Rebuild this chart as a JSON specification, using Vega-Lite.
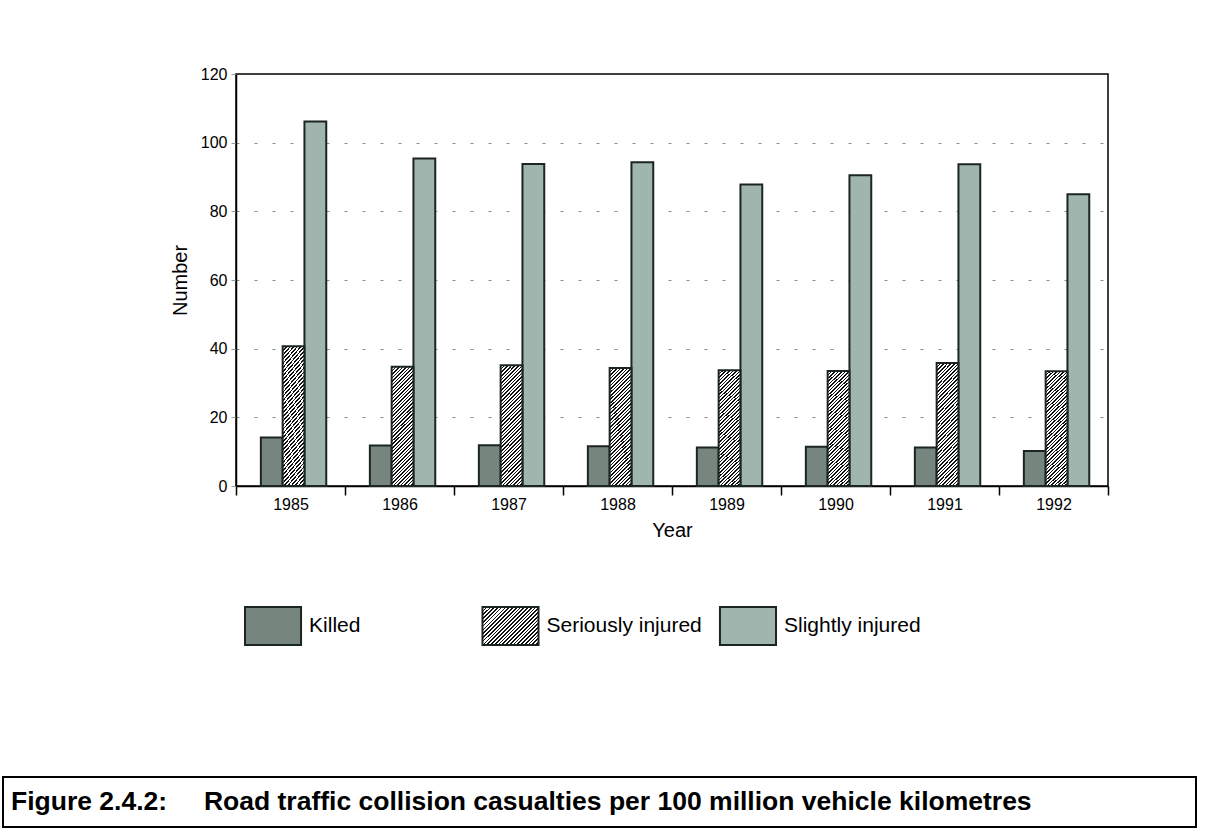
{
  "$schema": "https://vega.github.io/schema/vega-lite/v6.json",
  "padding": {"left": 2, "top": 65, "right": 5, "bottom": 5},
  "background": "#ffffff",
  "spacing": 130,
  "vconcat": [
    {
      "spacing": 65,
      "vconcat": [
        {
          "spacing": 0,
          "hconcat": [
            {"width": 166, "height": 10, "data": {"values": []}, "mark": "point"},
            {
              "width": 872,
              "height": 412,
              "view": {"stroke": "#000000", "strokeWidth": 1.5},
              "data": {"values": [
                {"year": "1985", "cat": "Killed", "value": 14.1},
                {"year": "1985", "cat": "Seriously injured", "value": 40.7},
                {"year": "1985", "cat": "Slightly injured", "value": 106.2},
                {"year": "1986", "cat": "Killed", "value": 11.8},
                {"year": "1986", "cat": "Seriously injured", "value": 34.7},
                {"year": "1986", "cat": "Slightly injured", "value": 95.4},
                {"year": "1987", "cat": "Killed", "value": 11.9},
                {"year": "1987", "cat": "Seriously injured", "value": 35.2},
                {"year": "1987", "cat": "Slightly injured", "value": 93.8},
                {"year": "1988", "cat": "Killed", "value": 11.6},
                {"year": "1988", "cat": "Seriously injured", "value": 34.4},
                {"year": "1988", "cat": "Slightly injured", "value": 94.3},
                {"year": "1989", "cat": "Killed", "value": 11.2},
                {"year": "1989", "cat": "Seriously injured", "value": 33.7},
                {"year": "1989", "cat": "Slightly injured", "value": 87.8},
                {"year": "1990", "cat": "Killed", "value": 11.4},
                {"year": "1990", "cat": "Seriously injured", "value": 33.5},
                {"year": "1990", "cat": "Slightly injured", "value": 90.5},
                {"year": "1991", "cat": "Killed", "value": 11.2},
                {"year": "1991", "cat": "Seriously injured", "value": 35.8},
                {"year": "1991", "cat": "Slightly injured", "value": 93.7},
                {"year": "1992", "cat": "Killed", "value": 10.2},
                {"year": "1992", "cat": "Seriously injured", "value": 33.4},
                {"year": "1992", "cat": "Slightly injured", "value": 85.0}
              ]},
              "encoding": {
                "x": {
                  "field": "year", "type": "ordinal",
                  "scale": {"paddingInner": 0, "paddingOuter": 0},
                  "axis": {
                    "title": "Year", "labelAngle": 0, "tickBand": "extent", "tickSize": 9,
                    "tickWidth": 1.5, "tickColor": "#000000", "domainColor": "#000000", "domainWidth": 1.5,
                    "labelFontSize": 16, "labelPadding": 1, "titleFontSize": 20, "titlePadding": 8, "grid": false
                  }
                },
                "xOffset": {
                  "field": "cat", "type": "nominal",
                  "scale": {"domain": ["Killed", "Seriously injured", "Slightly injured"], "paddingInner": 0, "paddingOuter": 1, "align": 0.57}
                },
                "y": {
                  "field": "value", "type": "quantitative",
                  "scale": {"domain": [0, 120], "nice": false},
                  "axis": {
                    "title": "Number", "values": [0, 20, 40, 60, 80, 100, 120],
                    "grid": true, "gridDash": [3, 15], "gridColor": "#8f8f8f", "gridWidth": 1,
                    "gridOpacity": {"condition": {"test": "datum.value === 0 || datum.value === 120", "value": 0}, "value": 1},
                    "tickSize": 5, "tickColor": "#999999", "domainColor": "#000000", "domainWidth": 1.5,
                    "labelFontSize": 16, "labelPadding": 4, "titleFontSize": 20, "titlePadding": 10
                  }
                }
              },
              "layer": [
                {
                  "transform": [{"filter": "datum.cat === 'Killed'"}],
                  "mark": {"type": "bar", "fill": "#77857f", "stroke": "#1b2521", "strokeWidth": 2}
                },
                {
                  "transform": [{"filter": "datum.cat === 'Slightly injured'"}],
                  "mark": {"type": "bar", "fill": "#a0b5ad", "stroke": "#1b2521", "strokeWidth": 2}
                },
                {
                  "transform": [{"filter": "datum.cat === 'Seriously injured'"}],
                  "mark": {"type": "bar", "stroke": "#1b2521", "strokeWidth": 2,
                    "fill": {"gradient": "linear", "x1": 0, "y1": 0, "x2": 0.208, "y2": 1.144, "stops": [
                      {"offset": 0, "color": "#111111"}, {"offset": 0.011, "color": "#111111"}, {"offset": 0.011, "color": "#ffffff"}, {"offset": 0.025, "color": "#ffffff"},
                      {"offset": 0.025, "color": "#111111"}, {"offset": 0.036, "color": "#111111"}, {"offset": 0.036, "color": "#ffffff"}, {"offset": 0.05, "color": "#ffffff"},
                      {"offset": 0.05, "color": "#111111"}, {"offset": 0.061, "color": "#111111"}, {"offset": 0.061, "color": "#ffffff"}, {"offset": 0.075, "color": "#ffffff"},
                      {"offset": 0.075, "color": "#111111"}, {"offset": 0.086, "color": "#111111"}, {"offset": 0.086, "color": "#ffffff"}, {"offset": 0.1, "color": "#ffffff"},
                      {"offset": 0.1, "color": "#111111"}, {"offset": 0.111, "color": "#111111"}, {"offset": 0.111, "color": "#ffffff"}, {"offset": 0.125, "color": "#ffffff"},
                      {"offset": 0.125, "color": "#111111"}, {"offset": 0.136, "color": "#111111"}, {"offset": 0.136, "color": "#ffffff"}, {"offset": 0.15, "color": "#ffffff"},
                      {"offset": 0.15, "color": "#111111"}, {"offset": 0.161, "color": "#111111"}, {"offset": 0.161, "color": "#ffffff"}, {"offset": 0.175, "color": "#ffffff"},
                      {"offset": 0.175, "color": "#111111"}, {"offset": 0.186, "color": "#111111"}, {"offset": 0.186, "color": "#ffffff"}, {"offset": 0.2, "color": "#ffffff"},
                      {"offset": 0.2, "color": "#111111"}, {"offset": 0.211, "color": "#111111"}, {"offset": 0.211, "color": "#ffffff"}, {"offset": 0.225, "color": "#ffffff"},
                      {"offset": 0.225, "color": "#111111"}, {"offset": 0.236, "color": "#111111"}, {"offset": 0.236, "color": "#ffffff"}, {"offset": 0.25, "color": "#ffffff"},
                      {"offset": 0.25, "color": "#111111"}, {"offset": 0.261, "color": "#111111"}, {"offset": 0.261, "color": "#ffffff"}, {"offset": 0.275, "color": "#ffffff"},
                      {"offset": 0.275, "color": "#111111"}, {"offset": 0.286, "color": "#111111"}, {"offset": 0.286, "color": "#ffffff"}, {"offset": 0.3, "color": "#ffffff"},
                      {"offset": 0.3, "color": "#111111"}, {"offset": 0.311, "color": "#111111"}, {"offset": 0.311, "color": "#ffffff"}, {"offset": 0.325, "color": "#ffffff"},
                      {"offset": 0.325, "color": "#111111"}, {"offset": 0.336, "color": "#111111"}, {"offset": 0.336, "color": "#ffffff"}, {"offset": 0.35, "color": "#ffffff"},
                      {"offset": 0.35, "color": "#111111"}, {"offset": 0.361, "color": "#111111"}, {"offset": 0.361, "color": "#ffffff"}, {"offset": 0.375, "color": "#ffffff"},
                      {"offset": 0.375, "color": "#111111"}, {"offset": 0.386, "color": "#111111"}, {"offset": 0.386, "color": "#ffffff"}, {"offset": 0.4, "color": "#ffffff"},
                      {"offset": 0.4, "color": "#111111"}, {"offset": 0.411, "color": "#111111"}, {"offset": 0.411, "color": "#ffffff"}, {"offset": 0.425, "color": "#ffffff"},
                      {"offset": 0.425, "color": "#111111"}, {"offset": 0.436, "color": "#111111"}, {"offset": 0.436, "color": "#ffffff"}, {"offset": 0.45, "color": "#ffffff"},
                      {"offset": 0.45, "color": "#111111"}, {"offset": 0.461, "color": "#111111"}, {"offset": 0.461, "color": "#ffffff"}, {"offset": 0.475, "color": "#ffffff"},
                      {"offset": 0.475, "color": "#111111"}, {"offset": 0.486, "color": "#111111"}, {"offset": 0.486, "color": "#ffffff"}, {"offset": 0.5, "color": "#ffffff"},
                      {"offset": 0.5, "color": "#111111"}, {"offset": 0.511, "color": "#111111"}, {"offset": 0.511, "color": "#ffffff"}, {"offset": 0.525, "color": "#ffffff"},
                      {"offset": 0.525, "color": "#111111"}, {"offset": 0.536, "color": "#111111"}, {"offset": 0.536, "color": "#ffffff"}, {"offset": 0.55, "color": "#ffffff"},
                      {"offset": 0.55, "color": "#111111"}, {"offset": 0.561, "color": "#111111"}, {"offset": 0.561, "color": "#ffffff"}, {"offset": 0.575, "color": "#ffffff"},
                      {"offset": 0.575, "color": "#111111"}, {"offset": 0.586, "color": "#111111"}, {"offset": 0.586, "color": "#ffffff"}, {"offset": 0.6, "color": "#ffffff"},
                      {"offset": 0.6, "color": "#111111"}, {"offset": 0.611, "color": "#111111"}, {"offset": 0.611, "color": "#ffffff"}, {"offset": 0.625, "color": "#ffffff"},
                      {"offset": 0.625, "color": "#111111"}, {"offset": 0.636, "color": "#111111"}, {"offset": 0.636, "color": "#ffffff"}, {"offset": 0.65, "color": "#ffffff"},
                      {"offset": 0.65, "color": "#111111"}, {"offset": 0.661, "color": "#111111"}, {"offset": 0.661, "color": "#ffffff"}, {"offset": 0.675, "color": "#ffffff"},
                      {"offset": 0.675, "color": "#111111"}, {"offset": 0.686, "color": "#111111"}, {"offset": 0.686, "color": "#ffffff"}, {"offset": 0.7, "color": "#ffffff"},
                      {"offset": 0.7, "color": "#111111"}, {"offset": 0.711, "color": "#111111"}, {"offset": 0.711, "color": "#ffffff"}, {"offset": 0.725, "color": "#ffffff"},
                      {"offset": 0.725, "color": "#111111"}, {"offset": 0.736, "color": "#111111"}, {"offset": 0.736, "color": "#ffffff"}, {"offset": 0.75, "color": "#ffffff"},
                      {"offset": 0.75, "color": "#111111"}, {"offset": 0.761, "color": "#111111"}, {"offset": 0.761, "color": "#ffffff"}, {"offset": 0.775, "color": "#ffffff"},
                      {"offset": 0.775, "color": "#111111"}, {"offset": 0.786, "color": "#111111"}, {"offset": 0.786, "color": "#ffffff"}, {"offset": 0.8, "color": "#ffffff"},
                      {"offset": 0.8, "color": "#111111"}, {"offset": 0.811, "color": "#111111"}, {"offset": 0.811, "color": "#ffffff"}, {"offset": 0.825, "color": "#ffffff"},
                      {"offset": 0.825, "color": "#111111"}, {"offset": 0.836, "color": "#111111"}, {"offset": 0.836, "color": "#ffffff"}, {"offset": 0.85, "color": "#ffffff"},
                      {"offset": 0.85, "color": "#111111"}, {"offset": 0.861, "color": "#111111"}, {"offset": 0.861, "color": "#ffffff"}, {"offset": 0.875, "color": "#ffffff"},
                      {"offset": 0.875, "color": "#111111"}, {"offset": 0.886, "color": "#111111"}, {"offset": 0.886, "color": "#ffffff"}, {"offset": 0.9, "color": "#ffffff"},
                      {"offset": 0.9, "color": "#111111"}, {"offset": 0.911, "color": "#111111"}, {"offset": 0.911, "color": "#ffffff"}, {"offset": 0.925, "color": "#ffffff"},
                      {"offset": 0.925, "color": "#111111"}, {"offset": 0.936, "color": "#111111"}, {"offset": 0.936, "color": "#ffffff"}, {"offset": 0.95, "color": "#ffffff"},
                      {"offset": 0.95, "color": "#111111"}, {"offset": 0.961, "color": "#111111"}, {"offset": 0.961, "color": "#ffffff"}, {"offset": 0.975, "color": "#ffffff"},
                      {"offset": 0.975, "color": "#111111"}, {"offset": 0.986, "color": "#111111"}, {"offset": 0.986, "color": "#ffffff"}, {"offset": 1, "color": "#ffffff"}
                    ]}
                  }
                }
              ]
            }
          ]
        },
        {
          "spacing": 0,
          "hconcat": [
            {"width": 241, "height": 10, "data": {"values": []}, "mark": "point"},
            {
              "width": 531,
              "height": 38,
              "data": {"values": [{"cat": "Killed"}, {"cat": "Seriously injured"}, {"cat": "Slightly injured"}]},
              "encoding": {
                "x": {"field": "cat", "type": "nominal", "scale": {"domain": ["Killed", "Seriously injured", "Slightly injured"], "paddingInner": 0.764, "paddingOuter": 0}, "axis": null}
              },
              "layer": [
                {
                  "transform": [{"filter": "datum.cat === 'Killed'"}],
                  "mark": {"type": "bar", "fill": "#77857f", "stroke": "#1b2521", "strokeWidth": 2}
                },
                {
                  "transform": [{"filter": "datum.cat === 'Slightly injured'"}],
                  "mark": {"type": "bar", "fill": "#a0b5ad", "stroke": "#1b2521", "strokeWidth": 2}
                },
                {
                  "transform": [{"filter": "datum.cat === 'Seriously injured'"}],
                  "mark": {"type": "bar", "stroke": "#1b2521", "strokeWidth": 2,
                    "fill": {"gradient": "linear", "x1": 0, "y1": 0, "x2": 1.149, "y2": 0.78, "stops": [
                      {"offset": 0, "color": "#111111"}, {"offset": 0.018, "color": "#111111"}, {"offset": 0.018, "color": "#ffffff"}, {"offset": 0.04, "color": "#ffffff"},
                      {"offset": 0.04, "color": "#111111"}, {"offset": 0.058, "color": "#111111"}, {"offset": 0.058, "color": "#ffffff"}, {"offset": 0.08, "color": "#ffffff"},
                      {"offset": 0.08, "color": "#111111"}, {"offset": 0.098, "color": "#111111"}, {"offset": 0.098, "color": "#ffffff"}, {"offset": 0.12, "color": "#ffffff"},
                      {"offset": 0.12, "color": "#111111"}, {"offset": 0.138, "color": "#111111"}, {"offset": 0.138, "color": "#ffffff"}, {"offset": 0.16, "color": "#ffffff"},
                      {"offset": 0.16, "color": "#111111"}, {"offset": 0.178, "color": "#111111"}, {"offset": 0.178, "color": "#ffffff"}, {"offset": 0.2, "color": "#ffffff"},
                      {"offset": 0.2, "color": "#111111"}, {"offset": 0.218, "color": "#111111"}, {"offset": 0.218, "color": "#ffffff"}, {"offset": 0.24, "color": "#ffffff"},
                      {"offset": 0.24, "color": "#111111"}, {"offset": 0.258, "color": "#111111"}, {"offset": 0.258, "color": "#ffffff"}, {"offset": 0.28, "color": "#ffffff"},
                      {"offset": 0.28, "color": "#111111"}, {"offset": 0.298, "color": "#111111"}, {"offset": 0.298, "color": "#ffffff"}, {"offset": 0.32, "color": "#ffffff"},
                      {"offset": 0.32, "color": "#111111"}, {"offset": 0.338, "color": "#111111"}, {"offset": 0.338, "color": "#ffffff"}, {"offset": 0.36, "color": "#ffffff"},
                      {"offset": 0.36, "color": "#111111"}, {"offset": 0.378, "color": "#111111"}, {"offset": 0.378, "color": "#ffffff"}, {"offset": 0.4, "color": "#ffffff"},
                      {"offset": 0.4, "color": "#111111"}, {"offset": 0.418, "color": "#111111"}, {"offset": 0.418, "color": "#ffffff"}, {"offset": 0.44, "color": "#ffffff"},
                      {"offset": 0.44, "color": "#111111"}, {"offset": 0.458, "color": "#111111"}, {"offset": 0.458, "color": "#ffffff"}, {"offset": 0.48, "color": "#ffffff"},
                      {"offset": 0.48, "color": "#111111"}, {"offset": 0.498, "color": "#111111"}, {"offset": 0.498, "color": "#ffffff"}, {"offset": 0.52, "color": "#ffffff"},
                      {"offset": 0.52, "color": "#111111"}, {"offset": 0.538, "color": "#111111"}, {"offset": 0.538, "color": "#ffffff"}, {"offset": 0.56, "color": "#ffffff"},
                      {"offset": 0.56, "color": "#111111"}, {"offset": 0.578, "color": "#111111"}, {"offset": 0.578, "color": "#ffffff"}, {"offset": 0.6, "color": "#ffffff"},
                      {"offset": 0.6, "color": "#111111"}, {"offset": 0.618, "color": "#111111"}, {"offset": 0.618, "color": "#ffffff"}, {"offset": 0.64, "color": "#ffffff"},
                      {"offset": 0.64, "color": "#111111"}, {"offset": 0.658, "color": "#111111"}, {"offset": 0.658, "color": "#ffffff"}, {"offset": 0.68, "color": "#ffffff"},
                      {"offset": 0.68, "color": "#111111"}, {"offset": 0.698, "color": "#111111"}, {"offset": 0.698, "color": "#ffffff"}, {"offset": 0.72, "color": "#ffffff"},
                      {"offset": 0.72, "color": "#111111"}, {"offset": 0.738, "color": "#111111"}, {"offset": 0.738, "color": "#ffffff"}, {"offset": 0.76, "color": "#ffffff"},
                      {"offset": 0.76, "color": "#111111"}, {"offset": 0.778, "color": "#111111"}, {"offset": 0.778, "color": "#ffffff"}, {"offset": 0.8, "color": "#ffffff"},
                      {"offset": 0.8, "color": "#111111"}, {"offset": 0.818, "color": "#111111"}, {"offset": 0.818, "color": "#ffffff"}, {"offset": 0.84, "color": "#ffffff"},
                      {"offset": 0.84, "color": "#111111"}, {"offset": 0.858, "color": "#111111"}, {"offset": 0.858, "color": "#ffffff"}, {"offset": 0.88, "color": "#ffffff"},
                      {"offset": 0.88, "color": "#111111"}, {"offset": 0.898, "color": "#111111"}, {"offset": 0.898, "color": "#ffffff"}, {"offset": 0.92, "color": "#ffffff"},
                      {"offset": 0.92, "color": "#111111"}, {"offset": 0.938, "color": "#111111"}, {"offset": 0.938, "color": "#ffffff"}, {"offset": 0.96, "color": "#ffffff"},
                      {"offset": 0.96, "color": "#111111"}, {"offset": 0.978, "color": "#111111"}, {"offset": 0.978, "color": "#ffffff"}, {"offset": 1, "color": "#ffffff"}
                    ]}
                  }
                },
                {
                  "mark": {"type": "text", "align": "left", "baseline": "middle", "dx": 8, "fontSize": 21, "font": "Liberation Sans", "color": "#000000"},
                  "encoding": {
                    "x": {"field": "cat", "type": "nominal", "bandPosition": 1},
                    "text": {"field": "cat"}
                  }
                }
              ]
            }
          ]
        }
      ]
    },
    {
      "width": 1193,
      "height": 50,
      "view": {"stroke": "#000000", "strokeWidth": 2},
      "data": {"values": [{"caption": "Figure 2.4.2:\u00a0\u00a0\u00a0\u00a0\u00a0Road traffic collision casualties per 100 million vehicle kilometres"}]},
      "mark": {"type": "text", "align": "left", "baseline": "middle", "dx": 8, "fontSize": 26.5, "fontWeight": "bold", "font": "Liberation Sans", "color": "#000000"},
      "encoding": {
        "x": {"datum": 0, "type": "quantitative", "scale": {"domain": [0, 1]}, "axis": null},
        "text": {"field": "caption"}
      }
    }
  ],
  "config": {
    "font": "Liberation Sans",
    "view": {"stroke": null},
    "axis": {"labelFont": "Liberation Sans", "titleFont": "Liberation Sans", "labelColor": "#000000", "titleColor": "#000000", "titleFontWeight": "normal"}
  }
}
